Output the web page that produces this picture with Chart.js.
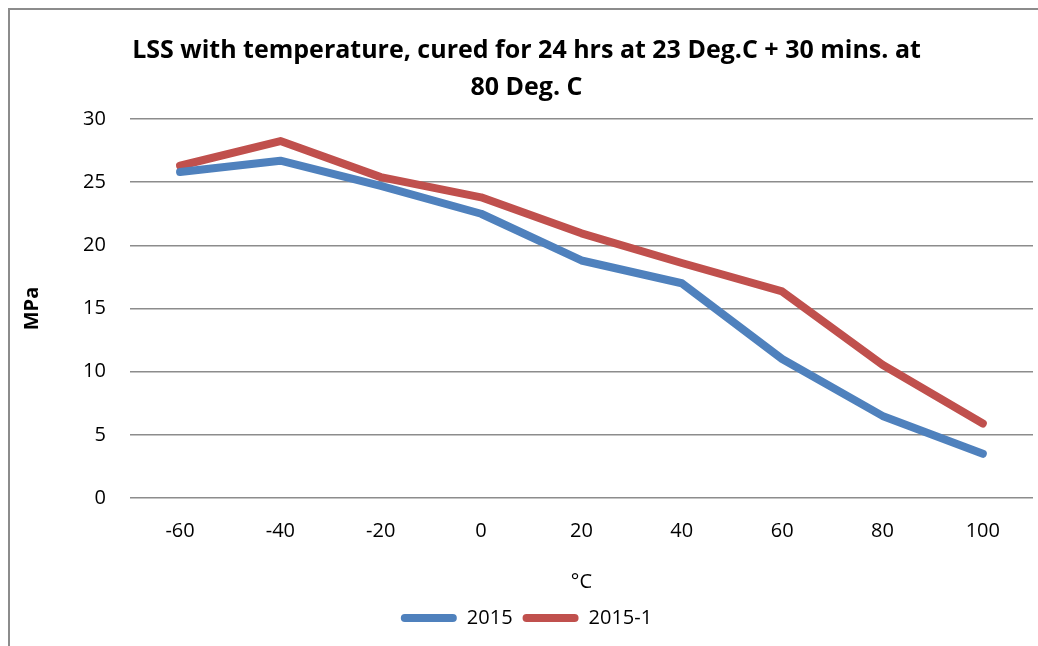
<!DOCTYPE html>
<html>
<head>
<meta charset="utf-8">
<script src="https://cdn.jsdelivr.net/npm/chart.js@4.4.1/dist/chart.umd.min.js"></script>
<style>
  html, body { margin: 0; padding: 0; background: #fff; }
  #wrap { width: 1038px; height: 646px; position: relative; }
</style>
</head>
<body>
<div id="wrap"><canvas id="c" width="1038" height="646"></canvas></div>
<script>
const temps = ['-60', '-40', '-20', '0', '20', '40', '60', '80', '100'];
const lss2015 = [25.8, 26.7, 24.7, 22.5, 18.8, 17.0, 11.0, 6.5, 3.5];
const lss2015_1 = [26.3, 28.25, 25.4, 23.8, 20.95, 18.6, 16.35, 10.55, 5.9];
const yTicks = [0, 5, 10, 15, 20, 25, 30];

const FONT = '"Open Sans", Lato, sans-serif';

// outer frame like the office chart border (left + top only visible)
const framePlugin = {
  id: 'frame',
  beforeDraw(chart) {
    const ctx = chart.ctx;
    ctx.save();
    ctx.strokeStyle = '#8c8c8c';
    ctx.lineWidth = 2;
    ctx.beginPath();
    ctx.moveTo(9, 646);
    ctx.lineTo(9, 9);
    ctx.lineTo(1038, 9);
    ctx.stroke();
    ctx.restore();
  }
};

new Chart(document.getElementById('c').getContext('2d'), {
  type: 'line',
  data: {
    labels: temps,
    datasets: [
      { label: '2015', data: lss2015, borderColor: '#4F81BD', backgroundColor: '#4F81BD',
        borderWidth: 8, pointRadius: 0, borderCapStyle: 'round', borderJoinStyle: 'round', tension: 0 },
      { label: '2015-1', data: lss2015_1, borderColor: '#C0504D', backgroundColor: '#C0504D',
        borderWidth: 8, pointRadius: 0, borderCapStyle: 'round', borderJoinStyle: 'round', tension: 0 },
    ],
  },
  options: {
    responsive: false,
    animation: false,
    layout: { padding: { left: 20, right: 5, top: 32, bottom: 8 } },
    plugins: {
      title: {
        display: true,
        text: ['LSS with temperature, cured for 24 hrs at 23 Deg.C + 30 mins. at', '80 Deg. C'],
        color: '#000',
        font: { family: FONT, size: 25, weight: 'bold', lineHeight: 1.5 },
        padding: { top: 0, bottom: 12 },
      },
      legend: {
        position: 'bottom',
        labels: {
          color: '#000',
          font: { family: FONT, size: 20 },
          boxWidth: 56, boxHeight: 8, padding: 10,
          useBorderRadius: true, borderRadius: 4,
          generateLabels(chart) {
            return chart.data.datasets.map((d, i) => ({
              text: d.label, fillStyle: d.borderColor, strokeStyle: d.borderColor,
              lineWidth: 0, datasetIndex: i, borderRadius: 4, hidden: false,
            }));
          },
        },
      },
      tooltip: { enabled: false },
    },
    scales: {
      x: {
        offset: true,
        grid: { display: false, drawTicks: false },
        border: { display: false },
        ticks: { color: '#000', font: { family: FONT, size: 20 }, padding: 21, maxRotation: 0 },
        title: { display: true, text: '°C', color: '#000', font: { family: FONT, size: 20 }, padding: { top: 6, bottom: 4 } },
      },
      y: {
        min: 0, max: 30,
        afterBuildTicks(axis) { axis.ticks = yTicks.map(v => ({ value: v })); },
        grid: { color: '#8c8c8c', lineWidth: 1.5, drawTicks: false },
        border: { display: false },
        ticks: { color: '#000', font: { family: FONT, size: 20 }, padding: 24 },
        title: { display: true, text: 'MPa', color: '#000', font: { family: FONT, size: 20, weight: 'bold' }, padding: { top: 0, bottom: 15 } },
      },
    },
  },
  plugins: [framePlugin],
});
</script>
</body>
</html>
